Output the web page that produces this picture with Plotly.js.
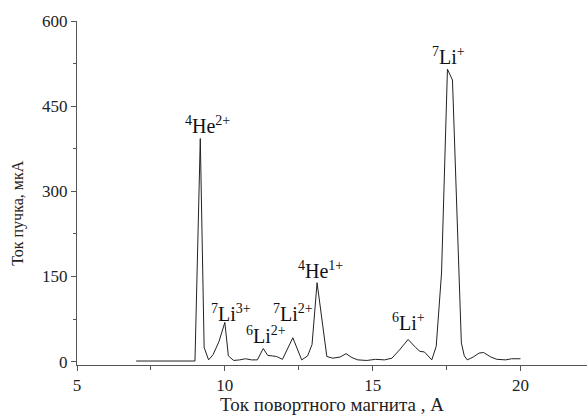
<!DOCTYPE html>
<html>
<head>
<meta charset="utf-8">
<script src="https://cdn.plot.ly/plotly-3.0.1.min.js"></script>
<style>html,body{margin:0;padding:0;background:#fff;}#chart{width:587px;height:415px;}</style>
</head>
<body>
<div id="chart"></div>
<script>
// Magnet current, A
const magnetCurrent = [7.0, 7.5, 8.0, 8.5, 8.99, 9.17, 9.3, 9.45, 9.6, 9.8, 10.0, 10.12, 10.3, 10.5, 10.7, 10.9, 11.1, 11.3, 11.45, 11.6, 11.75, 11.95, 12.3, 12.6, 12.8, 12.95, 13.12, 13.45, 13.65, 13.9, 14.1, 14.3, 14.5, 14.8, 15.1, 15.4, 15.65, 15.9, 16.2, 16.45, 16.6, 16.75, 17.0, 17.15, 17.33, 17.53, 17.7, 18.0, 18.1, 18.2, 18.4, 18.6, 18.75, 19.0, 19.2, 19.5, 19.7, 20.0];
// Beam current, uA
const beamCurrent = [1, 1, 1, 1, 1, 393, 25, 3, 12, 35, 69, 10, 2, 3, 5, 3, 3, 23, 11, 10, 9, 4, 42, 3, 10, 30, 139, 9, 6, 8, 14, 7, 3, 2, 4, 3, 6, 20, 39, 25, 18, 17, 3, 27, 156, 515, 496, 33, 10, 3, 8, 15, 16, 8, 4, 3, 5, 5];

// Peak labels
const peakLabels = ["<sup>4</sup>He<sup>2+</sup>", "<sup>7</sup>Li<sup>3+</sup>", "<sup>6</sup>Li<sup>2+</sup>", "<sup>7</sup>Li<sup>2+</sup>", "<sup>4</sup>He<sup>1+</sup>", "<sup>6</sup>Li<sup>+</sup>", "<sup>7</sup>Li<sup>+</sup>"];
const labelX = [9.4, 10.2, 11.4, 12.3, 13.25, 16.2, 17.55];
const labelY = [417, 86, 46, 85, 162, 69, 538];

const xTicks = [5, 10, 15, 20];
const yTicks = [0, 150, 300, 450, 600];

const FONT = "Liberation Serif";

const annotations = peakLabels.map((t, i) => ({
  x: labelX[i], y: labelY[i], xref: 'x', yref: 'y', text: t, showarrow: false,
  xanchor: 'center', yanchor: 'middle', font: {family: FONT, size: 20, color: '#111'}
}));
annotations.push({
  x: -0.116, y: 0.442, xref: 'paper', yref: 'paper', text: 'Ток пучка, мкА', showarrow: false,
  textangle: -90, xanchor: 'center', yanchor: 'middle', font: {family: FONT, size: 16, color: '#222'}
});

const data = [{
  x: magnetCurrent, y: beamCurrent, type: 'scatter', mode: 'lines',
  line: {color: '#222', width: 1}, hoverinfo: 'none'
}];

const layout = {
  width: 587, height: 415,
  margin: {l: 77, r: 0, t: 21, b: 50},
  paper_bgcolor: '#fff', plot_bgcolor: '#fff',
  showlegend: false,
  font: {family: FONT, color: '#222'},
  xaxis: {
    range: [5, 22.25], tickvals: xTicks, ticktext: xTicks.map(String),
    ticks: 'outside', ticklen: 5, tickcolor: '#555', showline: true, linecolor: '#555', linewidth: 1,
    showgrid: false, zeroline: false, tickfont: {family: FONT, size: 17, color: '#222'},
    minor: {dtick: 2.5, tick0: 5, ticks: 'outside', ticklen: 4, tickcolor: '#555', showgrid: false},
    title: {text: 'Ток повортного магнита , А', font: {family: FONT, size: 19, color: '#222'}, standoff: 5}
  },
  yaxis: {
    range: [-6, 600], tickvals: yTicks, ticktext: yTicks.map(String),
    ticks: 'outside', ticklen: 5, tickcolor: '#555', showline: true, linecolor: '#555', linewidth: 1,
    showgrid: false, zeroline: false, tickfont: {family: FONT, size: 17, color: '#222'},
    minor: {dtick: 75, tick0: 0, ticks: 'outside', ticklen: 3, tickcolor: '#555', showgrid: false}
  },
  annotations: annotations
};

Plotly.newPlot('chart', data, layout, {staticPlot: true, displayModeBar: false});
</script>
</body>
</html>
